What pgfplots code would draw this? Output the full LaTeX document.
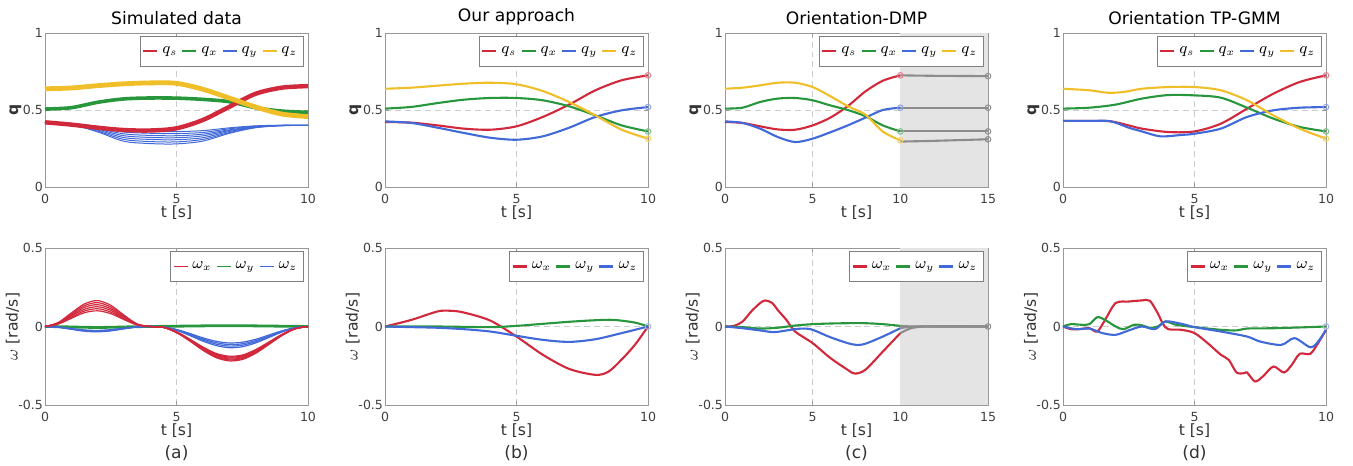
\documentclass[border=0pt]{standalone}
\usepackage{fontspec}
\setmainfont{DejaVu Sans}
\usepackage{pgfplots}
\pgfplotsset{compat=1.18}
\usepackage{pgfplotstable}

\definecolor{cR}{RGB}{210,40,60}
\definecolor{cG}{RGB}{40,150,60}
\definecolor{cB}{RGB}{65,105,215}
\definecolor{cY}{RGB}{240,190,40}
\definecolor{cK}{RGB}{140,140,140}
\definecolor{cS}{RGB}{228,228,228}

\pgfplotstableread{
t r1 r2 r3 r4 r5 r6 b1 b2 b3 b4 g
0 0 0 0 0 0 0 0 0 0 0 0
0.5 .015 .017 .019 .021 .023 .025 -.004 -.004 -.005 -.005 -.001
1 .052 .059 .066 .072 .079 .086 -.013 -.015 -.016 -.018 -.003
1.5 .088 .099 .110 .122 .133 .144 -.022 -.025 -.027 -.030 -.005
2 .100 .113 .126 .139 .152 .165 -.025 -.028 -.031 -.034 -.006
2.5 .082 .092 .103 .113 .124 .135 -.020 -.023 -.025 -.028 -.005
3 .044 .050 .055 .061 .067 .073 -.011 -.012 -.014 -.015 -.003
3.5 .010 .011 .013 .014 .015 .017 -.003 -.003 -.003 -.003 -.001
4 0 0 0 0 0 0 0 0 0 0 0
4.5 -.005 -.005 -.005 -.005 -.006 -.006 -.003 -.003 -.003 -.004 .001
5 -.033 -.035 -.036 -.037 -.038 -.039 -.019 -.020 -.022 -.024 .002
5.5 -.080 -.082 -.085 -.087 -.090 -.092 -.044 -.048 -.052 -.057 .003
6 -.130 -.135 -.139 -.143 -.147 -.151 -.072 -.079 -.086 -.093 .004
6.5 -.171 -.176 -.182 -.187 -.192 -.198 -.094 -.103 -.112 -.121 .005
7 -.189 -.195 -.201 -.207 -.213 -.219 -.105 -.115 -.125 -.135 .005
7.5 -.182 -.187 -.193 -.199 -.204 -.210 -.100 -.110 -.119 -.129 .005
8 -.148 -.153 -.158 -.162 -.167 -.172 -.082 -.090 -.098 -.105 .004
8.5 -.100 -.103 -.107 -.110 -.113 -.116 -.055 -.061 -.066 -.071 .003
9 -.051 -.052 -.054 -.055 -.057 -.059 -.028 -.031 -.033 -.036 .002
9.5 -.014 -.014 -.014 -.015 -.015 -.016 -.008 -.008 -.009 -.010 .001
10 0 0 0 0 0 0 0 0 0 0 0
}\simw

\pgfplotsset{
  panel/.style={scale only axis, width=131.5bp, clip=false,
    axis line style={black!40}, tick style={black!40}, major tick length=2bp,
    grid=major, grid style={densely dashed, black!20, line width=0.3bp},
    tick label style={font=\fontsize{6.3}{7.5}\selectfont, text=black!75},
    yticklabel style={xshift=2.5bp},
    label style={font=\fontsize{7.8}{9}\selectfont, text=black!80},
    title style={font=\fontsize{8.6}{10}\selectfont, yshift=-5.5bp},
    xlabel shift=-6bp,
    legend style={at={(0.985,0.98)}, anchor=north east, draw=black!50, fill=white,
      font=\fontsize{7.6}{9}\selectfont, inner xsep=1.2bp, inner ysep=3bp},
    legend image code/.code={\draw[#1] (0bp,0bp) -- (7bp,0bp);},
    every axis plot/.append style={line width=1.05bp},
    /pgf/number format/assume math mode=true,
  },
  toprow/.style={height=77bp, ymin=0, ymax=1, ytick={0,0.5,1}, yticklabels={0,0.5,1},
    ylabel={$\mathbf{q}$}, xlabel={t [s]}, legend columns=4, ylabel shift=-6bp},
  botrow/.style={height=78.5bp, ymin=-0.5, ymax=0.5, ytick={-0.5,0,0.5}, yticklabels={-0.5,0,0.5},
    ylabel={$\omega$ [rad/s]}, legend columns=3, xlabel style={align=center}, ylabel shift=-7.5bp},
  ten/.style={xmin=0, xmax=10, xtick={0,5,10}, xticklabels={0,5,10}},
  fifteen/.style={xmin=0, xmax=15, xtick={0,5,10,15}, xticklabels={0,5,10,15}},
  endm/.style={only marks, mark=o, mark size=1.4bp, line width=0.5bp, forget plot},
}
\newcommand{\LQ}{\legend{$q_s$,$q_x$,$q_y$,$q_z$}}
\newcommand{\LW}{\legend{$\omega_x$,$\omega_y$,$\omega_z$}}

\begin{document}
\begin{tikzpicture}
\path[use as bounding box] (0,0) rectangle (676.5bp,-233bp);

% ---------------- (a) top
\begin{axis}[panel, toprow, ten, at={(22.5bp,-93.5bp)}, anchor=south west, title={Simulated data}]
\addlegendimage{cR, line width=0.9bp}
\addlegendimage{cG, line width=0.9bp}
\addlegendimage{cB, line width=0.9bp}
\addlegendimage{cY, line width=0.9bp}
\addplot[cB, line width=0.5bp, smooth, forget plot] coordinates {(0,.42)(1,.413)(2,.394)(3,.369)(4,.362)(5,.360)(6,.366)(7,.384)(8,.397)(9,.401)(10,.40)};
\addplot[cB, line width=0.5bp, smooth, forget plot] coordinates {(0,.42)(1,.412)(2,.388)(3,.357)(4,.349)(5,.347)(6,.354)(7,.378)(8,.395)(9,.400)(10,.40)};
\addplot[cB, line width=0.5bp, smooth, forget plot] coordinates {(0,.42)(1,.410)(2,.381)(3,.345)(4,.335)(5,.333)(6,.343)(7,.371)(8,.392)(9,.400)(10,.40)};
\addplot[cB, line width=0.5bp, smooth, forget plot] coordinates {(0,.42)(1,.409)(2,.376)(3,.333)(4,.322)(5,.320)(6,.332)(7,.366)(8,.391)(9,.399)(10,.40)};
\addplot[cB, line width=0.5bp, smooth, forget plot] coordinates {(0,.42)(1,.408)(2,.370)(3,.321)(4,.309)(5,.307)(6,.320)(7,.360)(8,.389)(9,.399)(10,.40)};
\addplot[cB, line width=0.5bp, smooth, forget plot] coordinates {(0,.42)(1,.406)(2,.363)(3,.309)(4,.295)(5,.293)(6,.309)(7,.353)(8,.386)(9,.399)(10,.40)};
\addplot[cB, line width=0.5bp, smooth, forget plot] coordinates {(0,.42)(1,.405)(2,.358)(3,.297)(4,.282)(5,.280)(6,.298)(7,.348)(8,.385)(9,.398)(10,.40)};
\addplot[cG, line width=1.8bp, smooth, forget plot] coordinates {(0,.506)(1,.515)(2,.55)(3,.572)(4,.578)(5,.577)(6,.569)(7,.554)(8,.515)(9,.493)(10,.485)};
\addplot[cR, line width=2.2bp, smooth, forget plot] coordinates {(0,.42)(1,.405)(2,.385)(3,.37)(4,.367)(5,.381)(6,.435)(7,.52)(8,.605)(9,.645)(10,.655)};
\addplot[cY, line width=2.4bp, smooth, forget plot] coordinates {(0,.638)(1,.643)(2,.658)(3,.670)(4,.676)(5,.673)(6,.635)(7,.578)(8,.52)(9,.474)(10,.457)};
\LQ
\end{axis}

% ---------------- (a) bottom
\begin{axis}[panel, botrow, ten, at={(22.5bp,-202.5bp)}, anchor=south west,
  xlabel={t [s]\\[3bp]{\fontsize{8.6}{10}\selectfont (a)}}]
\addlegendimage{cR, line width=0.9bp}
\addlegendimage{cG, line width=0.9bp}
\addlegendimage{cB, line width=0.9bp}
\addplot[cG, line width=1.4bp, smooth, forget plot] table[x=t,y=g] {\simw};
\foreach \c in {b1,b2,b3,b4}{\addplot[cB, line width=0.6bp, smooth, forget plot] table[x=t,y=\c] {\simw};}
\foreach \c in {r1,r2,r3,r4,r5,r6}{\addplot[cR, line width=0.6bp, smooth, forget plot] table[x=t,y=\c] {\simw};}
\LW
\end{axis}

% ---------------- (b) top
\begin{axis}[panel, toprow, ten, at={(192.5bp,-93.5bp)}, anchor=south west, title={Our approach}]
\addplot[cR, smooth] coordinates {(0,.422)(1,.418)(2,.40)(3,.379)(4,.372)(5,.394)(6,.455)(7,.535)(8,.628)(9,.693)(10,.725)};
\addplot[cG, smooth] coordinates {(0,.509)(1,.52)(2,.545)(3,.567)(4,.578)(5,.578)(6,.563)(7,.524)(8,.465)(9,.40)(10,.361)};
\addplot[cB, smooth] coordinates {(0,.426)(1,.416)(2,.385)(3,.351)(4,.32)(5,.307)(6,.329)(7,.385)(8,.455)(9,.498)(10,.519)};
\addplot[cY, smooth] coordinates {(0,.638)(1,.645)(2,.658)(3,.671)(4,.677)(5,.667)(6,.623)(7,.552)(8,.465)(9,.372)(10,.314)};
\addplot[endm, cR!60] coordinates {(10,.725)};
\addplot[endm, cG!60] coordinates {(10,.361)};
\addplot[endm, cB!60] coordinates {(10,.519)};
\addplot[endm, cY!70] coordinates {(10,.314)};
\LQ
\end{axis}

% ---------------- (b) bottom
\begin{axis}[panel, botrow, ten, at={(192.5bp,-202.5bp)}, anchor=south west,
  xlabel={t [s]\\[3bp]{\fontsize{8.6}{10}\selectfont (b)}}]
\addplot[cR, smooth] coordinates {(0,0)(1,.042)(2,.096)(2.5,.10)(3,.089)(4,.038)(5,-.064)(6,-.18)(7,-.27)(8,-.308)(8.5,-.287)(9,-.21)(9.5,-.117)(10,0)};
\addplot[cG, smooth] coordinates {(0,0)(2,0)(4,-.004)(5,.004)(6,.017)(7,.03)(8,.04)(8.7,.042)(9.5,.025)(10,0)};
\addplot[cB, smooth] coordinates {(0,0)(1,-.004)(2,-.008)(3,-.017)(4,-.032)(5,-.059)(6,-.085)(7,-.098)(8,-.081)(9,-.042)(10,0)};
\addplot[endm, cB!50] coordinates {(10,0)};
\LW
\end{axis}

% ---------------- (c) top
\begin{axis}[panel, toprow, fifteen, at={(362.5bp,-93.5bp)}, anchor=south west, title={Orientation-DMP}]
\fill[cS] (axis cs:10,0) rectangle (axis cs:15,1);
\addplot[cR, smooth] coordinates {(0,.422)(1,.416)(2,.394)(3,.374)(4,.372)(5,.40)(6,.45)(7,.525)(8,.62)(9,.69)(10,.725)};
\addplot[cG, smooth] coordinates {(0,.509)(1,.515)(2,.552)(3,.574)(4,.578)(5,.563)(6,.53)(7,.50)(8,.46)(9,.40)(10,.361)};
\addplot[cB, smooth] coordinates {(0,.426)(1,.416)(2,.379)(3,.325)(4,.292)(5,.314)(6,.355)(7,.40)(8,.45)(9,.50)(10,.515)};
\addplot[cY, smooth] coordinates {(0,.638)(1,.645)(2,.66)(3,.677)(4,.677)(5,.649)(6,.59)(7,.525)(8,.47)(9,.36)(10,.303)};
\addplot[cK, forget plot, smooth] coordinates {(10,.725)(12,.722)(15,.72)};
\addplot[cK, forget plot] coordinates {(10,.515)(15,.515)};
\addplot[cK, forget plot] coordinates {(10,.361)(15,.361)};
\addplot[cK, forget plot, smooth] coordinates {(10,.295)(12,.30)(15,.31)};
\addplot[endm, cK] coordinates {(15,.72)(15,.515)(15,.361)(15,.31)};
\addplot[endm, cR!60] coordinates {(10,.725)};
\addplot[endm, cG!60] coordinates {(10,.361)};
\addplot[endm, cB!60] coordinates {(10,.515)};
\addplot[endm, cY!70] coordinates {(10,.303)};
\LQ
\end{axis}

% ---------------- (c) bottom
\begin{axis}[panel, botrow, fifteen, at={(362.5bp,-202.5bp)}, anchor=south west,
  xlabel={t [s]\\[3bp]{\fontsize{8.6}{10}\selectfont (c)}}]
\fill[cS] (axis cs:10,-0.5) rectangle (axis cs:15,0.5);
\addplot[cR, smooth] coordinates {(0,0)(0.5,.004)(1,.032)(1.5,.096)(2,.149)(2.3,.166)(2.7,.149)(3,.106)(3.5,.042)(4,-.032)(5,-.106)(6,-.2)(7,-.276)(7.4,-.3)(8,-.276)(9,-.16)(10,-.042)};
\addplot[cG, smooth] coordinates {(0,0)(1,-.004)(2,-.013)(3,-.008)(4,.006)(5,.015)(6,.019)(7,.021)(8,.021)(9,.015)(10,.004)};
\addplot[cB, smooth] coordinates {(0,0)(1,-.011)(2,-.025)(2.7,-.036)(3,-.034)(4,-.017)(4.5,-.013)(5,-.021)(6,-.068)(7,-.106)(7.5,-.117)(8,-.11)(9,-.064)(10,-.011)};
\addplot[cK, forget plot, smooth] coordinates {(10,-.042)(10.5,-.015)(11,-.003)(12,0)(15,0)};
\addplot[cK, forget plot, smooth] coordinates {(10,-.011)(11,0)(15,0)};
\addplot[cK, forget plot, smooth] coordinates {(10,.004)(11,0)(15,0)};
\addplot[endm, cK] coordinates {(15,0)};
\LW
\end{axis}

% ---------------- (d) top
\begin{axis}[panel, toprow, ten, at={(531.5bp,-93.5bp)}, anchor=south west, title={Orientation TP-GMM}]
\addplot[cR, smooth] coordinates {(0,.429)(1,.429)(1.8,.427)(2.5,.40)(3,.379)(4,.357)(5,.361)(6,.411)(7,.509)(8,.606)(9,.682)(10,.725)};
\addplot[cG, smooth] coordinates {(0,.509)(1,.515)(2,.535)(3,.574)(4,.597)(5,.595)(6,.58)(7,.515)(8,.444)(9,.39)(10,.361)};
\addplot[cB, smooth] coordinates {(0,.429)(1,.429)(1.8,.427)(2.5,.385)(3,.361)(3.7,.329)(4.5,.338)(5,.346)(6,.379)(7,.455)(8,.498)(9,.515)(10,.519)};
\addplot[cY, smooth] coordinates {(0,.638)(1,.628)(1.7,.612)(2.3,.617)(3,.638)(4,.649)(5,.649)(6,.628)(7,.563)(8,.465)(9,.379)(10,.314)};
\addplot[endm, cR!60] coordinates {(10,.725)};
\addplot[endm, cG!60] coordinates {(10,.361)};
\addplot[endm, cB!60] coordinates {(10,.519)};
\addplot[endm, cY!70] coordinates {(10,.314)};
\LQ
\end{axis}

% ---------------- (d) bottom
\begin{axis}[panel, botrow, ten, at={(531.5bp,-202.5bp)}, anchor=south west,
  xlabel={t [s]\\[3bp]{\fontsize{8.6}{10}\selectfont (d)}}]
\addplot[cR, smooth] coordinates {(0,0)(0.3,-.017)(0.6,-.017)(1,-.011)(1.3,-.032)(1.6,.042)(2,.149)(2.5,.159)(3,.166)(3.3,.164)(3.6,.085)(3.8,.017)(4,-.017)(4.5,-.021)(5,-.042)(5.5,-.106)(6,-.18)(6.3,-.212)(6.6,-.293)(6.9,-.297)(7,-.293)(7.3,-.35)(7.6,-.318)(8,-.255)(8.4,-.293)(8.7,-.244)(9,-.174)(9.4,-.174)(9.7,-.106)(10,-.021)};
\addplot[cG, smooth] coordinates {(0,0)(0.3,.015)(0.7,.011)(1,.015)(1.3,.059)(1.6,.042)(2,0)(2.3,-.017)(2.7,.011)(3,.008)(3.3,-.008)(3.6,0)(3.9,.032)(4.3,.011)(5,-.004)(6,-.021)(6.6,-.025)(7,-.013)(8,-.011)(9,-.006)(10,0)};
\addplot[cB, smooth] coordinates {(0,0)(0.5,-.017)(1,-.013)(1.5,-.042)(2,-.053)(2.5,-.025)(3,0)(3.5,-.017)(3.9,.032)(4.5,.017)(5,-.004)(6,-.032)(7,-.064)(7.5,-.096)(8.3,-.117)(8.8,-.074)(9.4,-.132)(9.7,-.096)(10,-.021)};
\addplot[endm, cB!50] coordinates {(10,0)};
\LW
\end{axis}
\end{tikzpicture}
\end{document}
